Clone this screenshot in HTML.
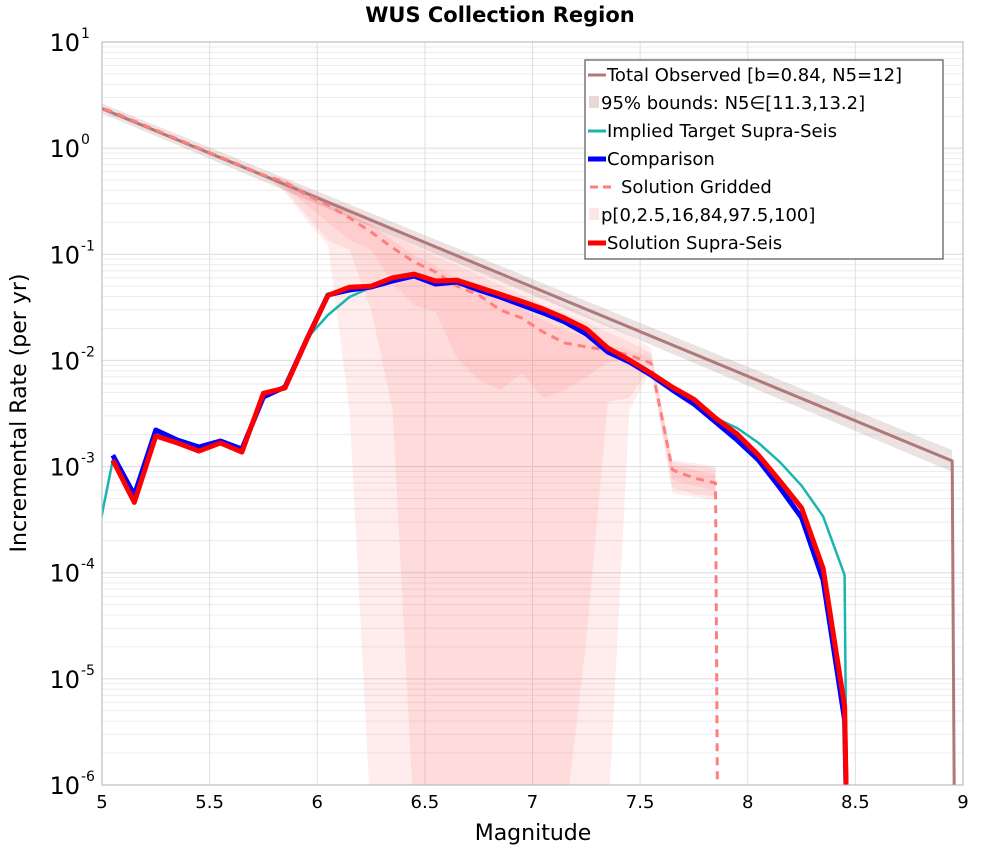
<!DOCTYPE html>
<html><head><meta charset="utf-8"><style>
html,body{margin:0;background:#fff;width:1000px;height:850px;overflow:hidden;}
svg{display:block;font-family:"DejaVu Sans","Liberation Sans",sans-serif;overflow:hidden;}
</style></head><body>
<svg id="chart" width="1000" height="850" viewBox="0 0 1000 850" xmlns="http://www.w3.org/2000/svg">
<defs><clipPath id="plotclip"><rect x="102" y="42" width="861" height="743"/></clipPath></defs>
<text x="500" y="22" text-anchor="middle" font-size="21" font-weight="bold">WUS Collection Region</text>
<g id="grid"></g>
<g id="series" clip-path="url(#plotclip)"></g>
<rect x="102" y="42" width="861" height="743" fill="none" stroke="#b0b0b0" stroke-width="1"/>
<g id="xticks"></g>
<g id="yticks"></g>
<text x="533" y="840" text-anchor="middle" font-size="22">Magnitude</text>
<text transform="translate(26,413) rotate(-90)" text-anchor="middle" font-size="22">Incremental Rate (per yr)</text>
<g id="legend">
<rect x="585" y="60" width="358" height="199" fill="#fff" stroke="#555" stroke-width="1.2"/>
<line x1="588" y1="75" x2="606" y2="75" stroke="#b07878" stroke-width="3"/>
<text x="607" y="81" font-size="18">Total Observed [b=0.84, N5=12]</text>
<rect x="589" y="96" width="10" height="12" fill="#e8d8d8"/>
<text x="601" y="109" font-size="18">95% bounds: N5∈[11.3,13.2]</text>
<line x1="588" y1="131" x2="606" y2="131" stroke="#1ab5b0" stroke-width="3"/>
<text x="607" y="137" font-size="18">Implied Target Supra-Seis</text>
<line x1="588" y1="159" x2="606" y2="159" stroke="#0000ff" stroke-width="5"/>
<text x="607" y="165" font-size="18">Comparison</text>
<line x1="590" y1="187" x2="616" y2="187" stroke="#ff7f7f" stroke-width="3" stroke-dasharray="8,5"/>
<text x="621" y="193" font-size="18">Solution Gridded</text>
<rect x="589" y="208" width="10" height="12" fill="#fde6e6"/>
<text x="601" y="221" font-size="18">p[0,2.5,16,84,97.5,100]</text>
<line x1="588" y1="243" x2="606" y2="243" stroke="#ff0000" stroke-width="5"/>
<text x="607" y="249" font-size="18">Solution Supra-Seis</text>
</g>
</svg>
<script>
const mainMags = [5.05,5.15,5.25,5.35,5.45,5.55,5.65,5.75,5.85,5.95,6.05,6.15,6.25,6.35,6.45,6.55,6.65,6.75,6.85,6.95,7.05,7.15,7.25,7.35,7.45,7.55,7.65,7.75,7.85,7.95,8.05,8.15,8.25,8.35,8.45,8.46];
const solutionSupra = [0.00115,0.00046,0.00194,0.00167,0.0014,0.00167,0.00137,0.0049,0.0055,0.0155,0.041,0.049,0.050,0.060,0.065,0.056,0.057,0.049,0.042,0.036,0.0305,0.025,0.0198,0.0131,0.0101,0.0076,0.0056,0.0043,0.00287,0.00203,0.00128,0.00073,0.000407,0.00011,0.0000055,1e-30];
const comparison = [0.00128,0.00054,0.00221,0.00178,0.00153,0.00174,0.00146,0.00452,0.00562,0.0156,0.0413,0.0461,0.0492,0.056,0.0624,0.0525,0.0548,0.0461,0.0396,0.0333,0.028,0.023,0.0177,0.012,0.00966,0.00729,0.00526,0.00389,0.00263,0.00178,0.00115,0.00063,0.00033,0.000085,0.0000041,1e-30];
const targetMags = [4.95,5.05,5.15,5.25,5.35,5.45,5.55,5.65,5.75,5.85,5.95,6.05,6.15,6.25,6.35,6.45,6.55,6.65,6.75,6.85,6.95,7.05,7.15,7.25,7.35,7.45,7.55,7.65,7.75,7.85,7.95,8.05,8.15,8.25,8.35,8.45,8.46];
const impliedTarget = [0.00011,0.00115,0.00048,0.00194,0.00167,0.0014,0.00167,0.00137,0.0049,0.0055,0.016,0.0268,0.0396,0.049,0.060,0.065,0.056,0.057,0.049,0.042,0.036,0.0305,0.025,0.0198,0.0131,0.0101,0.0076,0.0056,0.0043,0.00287,0.00231,0.00167,0.0011,0.00066,0.00034,0.000095,1e-30];
const griddedMags = [4.95,5.05,5.15,5.25,5.35,5.45,5.55,5.65,5.75,5.85,5.95,6.05,6.15,6.25,6.35,6.45,6.55,6.65,6.75,6.85,6.95,7.05,7.15,7.25,7.35,7.45,7.55,7.65,7.75,7.85,7.86];
const solutionGridded = [2.6,2.19,1.80,1.48,1.22,1.00,0.825,0.679,0.558,0.480,0.362,0.291,0.220,0.162,0.115,0.0846,0.0681,0.0502,0.0413,0.0299,0.0251,0.0185,0.0146,0.0134,0.0125,0.0112,0.00946,0.00093,0.00078,0.0007,1e-30];
const totalMags = [4.95,8.95,8.96];
const totalObserved = [2.6,0.00113,1e-30];
const totalUpper = [2.9,0.00143];
const totalLower = [2.35,0.00089];
const pctMags = [5.75,5.85,5.95,6.05,6.15,6.25,6.35,6.45,6.55,6.65,6.75,6.85,6.95,7.05,7.15,7.25,7.35,7.45,7.55,7.65,7.75,7.85];
const p100 = [0.558,0.501,0.403,0.325,0.273,0.220,0.177,0.142,0.117,0.0942,0.0776,0.0624,0.0513,0.0413,0.0333,0.0268,0.0216,0.0174,0.0131,0.00115,0.00108,0.00101];
const p975 = [0.558,0.469,0.362,0.291,0.234,0.189,0.149,0.120,0.0963,0.0793,0.0638,0.0513,0.0413,0.0333,0.0274,0.0230,0.0185,0.0149,0.0117,0.00110,0.00103,0.00097];
const p84 = [0.558,0.501,0.386,0.311,0.245,0.189,0.136,0.0984,0.0776,0.0598,0.0481,0.0387,0.0312,0.0240,0.0194,0.0163,0.0140,0.0125,0.0108,0.00103,0.00093,0.00085];
const p16 = [0.558,0.430,0.291,0.201,0.136,0.110,0.0536,0.0333,0.0286,0.0105,0.00654,0.00526,0.00761,0.00442,0.00526,0.00698,0.00966,0.0101,0.00966,0.00075,0.00066,0.00060];
const p25 = [0.558,0.403,0.234,0.136,0.110,0.0299,0.00341,1e-30,1e-30,1e-30,1e-30,1e-30,1e-30,1e-30,1e-30,0.0000232,0.00406,0.00442,0.00906,0.00063,0.00055,0.00052];
const p0 = [0.558,0.386,0.210,0.122,0.00341,1e-30,1e-30,1e-30,1e-30,1e-30,1e-30,1e-30,1e-30,1e-30,1e-30,1e-30,1e-30,0.00341,0.00812,0.00056,0.00052,0.00048];
const xTicks = [5,5.5,6,6.5,7,7.5,8,8.5,9];
const xTickLabels = ["5","5.5","6","6.5","7","7.5","8","8.5","9"];
const yExps = [1,0,-1,-2,-3,-4,-5,-6];

const X0=102,X1=963,Y0=42,Y1=785;
function xs(m){return X0+(m-5)/4*(X1-X0);}
function ys(v){const l=Math.log10(v);return Y0+(1-l)/7*(Y1-Y0);}
const NS="http://www.w3.org/2000/svg";
function mk(tag,attrs,parent){const e=document.createElementNS(NS,tag);for(const k in attrs)e.setAttribute(k,attrs[k]);parent.appendChild(e);return e;}
const grid=document.getElementById('grid'),ser=document.getElementById('series');
for(let e=1;e>-6;e--){for(let k=1;k<10;k++){const y=ys(k*Math.pow(10,e-1));
 const ln=mk('line',{x1:X0,x2:X1,y1:y,y2:y,stroke:k===1?'#dcdcdc':'#ececec','stroke-width':1},grid);
 
 }}
xTicks.forEach((t,i)=>{const x=xs(t);
 const ln=mk('line',{x1:x,x2:x,y1:Y0,y2:Y1,stroke:'#e0e0e0','stroke-width':1},grid);
 
 
 const tx=mk('text',{x:x,y:808,'text-anchor':'middle','font-size':18},document.getElementById('xticks'));
 tx.textContent=xTickLabels[i];
 
 });
yExps.forEach(e=>{const y=ys(Math.pow(10,e));
 const tx=mk('text',{x:80,y:y+9,'text-anchor':'end','font-size':24},document.getElementById('yticks'));
 tx.textContent='10';
 
 
 const sp=mk('text',{x:81,y:y-4,'text-anchor':'start','font-size':14},document.getElementById('yticks'));
 sp.textContent=String(e);
 
 });
function pts(ms,vs){return ms.map((m,i)=>xs(m).toFixed(1)+','+Math.min(ys(vs[i]),Y1+40).toFixed(1));}
function band(ms,lo,hi,fill,name){const p=pts(ms,hi).concat(pts(ms,lo).reverse());
 const el=mk('polygon',{points:p.join(' '),fill:fill,stroke:'none'},ser);
 
 }
function line(ms,vs,color,w,name,dash){const el=mk('polyline',{points:pts(ms,vs).join(' '),fill:'none',stroke:color,'stroke-width':w,'stroke-linejoin':'round'},ser);
 if(dash)el.setAttribute('stroke-dasharray',dash);
 
 }
band(totalMags.slice(0,2),totalLower,totalUpper,'rgba(160,110,110,0.2)','total-observed-bounds');
band(pctMags,p0,p100,'rgba(255,60,60,0.09)','percentile-band-0-100');
band(pctMags,p25,p975,'rgba(255,60,60,0.09)','percentile-band-2.5-97.5');
band(pctMags,p16,p84,'rgba(255,60,60,0.09)','percentile-band-16-84');
line(totalMags,totalObserved,'#b07878',3,'total-observed-line');
line(griddedMags,solutionGridded,'#ff7f7f',3,'solution-gridded-line','8,6');
line(targetMags,impliedTarget,'#1ab5b0',2.5,'implied-target-line');
line(mainMags,comparison,'#0000ff',5,'comparison-line');
line(mainMags,solutionSupra,'#ff0000',5,'solution-supra-line');
</script>
</body></html>
